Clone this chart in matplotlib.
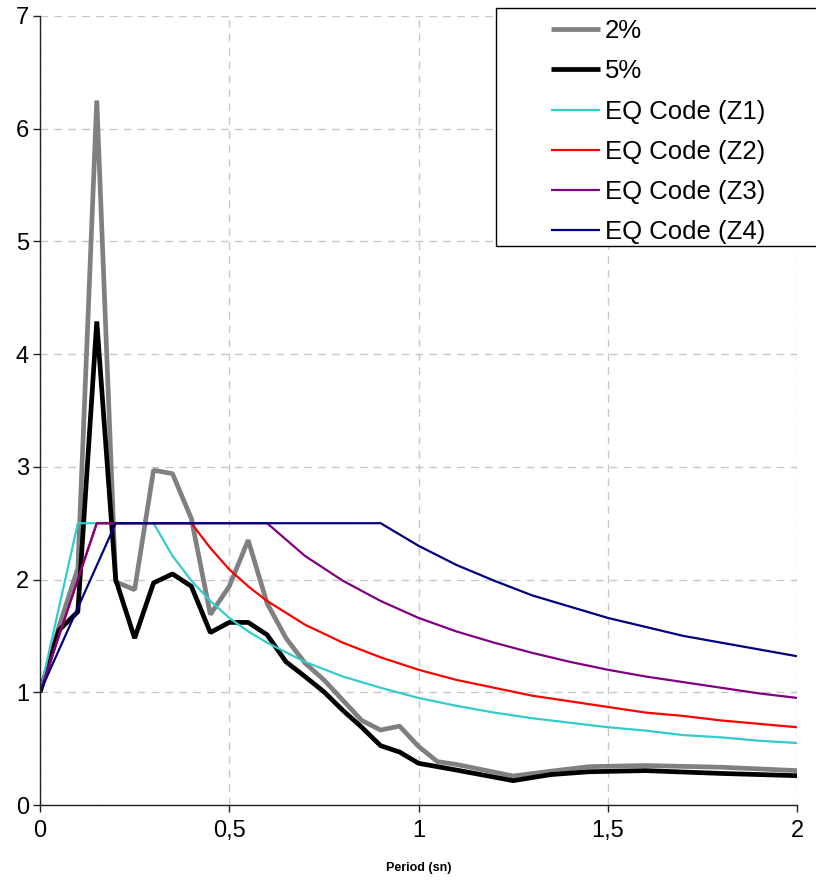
import matplotlib
matplotlib.use("Agg")
import matplotlib.pyplot as plt
from matplotlib.patches import Rectangle

plt.rcParams['font.family'] = ['Liberation Sans', 'DejaVu Sans']

# ---- data ----
T_data = [0, 0.05, 0.1, 0.15, 0.2, 0.25, 0.3, 0.35, 0.4, 0.45, 0.5, 0.55, 0.6,
          0.65, 0.7, 0.75, 0.8, 0.85, 0.9, 0.95, 1.0, 1.05, 1.1, 1.25, 1.35,
          1.45, 1.6, 1.8, 2.0]
damp2 = [1.0, 1.58, 2.10, 6.25, 1.98, 1.91, 2.97, 2.94, 2.54, 1.69, 1.94, 2.35,
         1.79, 1.48, 1.26, 1.11, 0.93, 0.75, 0.665, 0.70, 0.52, 0.385, 0.36,
         0.257, 0.30, 0.34, 0.35, 0.335, 0.305]
damp5 = [1.0, 1.55, 1.715, 4.29, 2.0, 1.48, 1.97, 2.05, 1.94, 1.53, 1.62, 1.62,
         1.51, 1.27, 1.14, 1.005, 0.84, 0.69, 0.526, 0.47, 0.37, 0.34, 0.31,
         0.216, 0.27, 0.295, 0.305, 0.28, 0.26]

T_code = [0, 0.05, 0.1, 0.15, 0.2, 0.25, 0.3, 0.35, 0.4, 0.45, 0.5, 0.55, 0.6,
          0.7, 0.8, 0.9, 1.0, 1.1, 1.2, 1.3, 1.4, 1.5, 1.6, 1.7, 1.8, 1.9, 2.0]
code_z1 = [1.0, 1.75, 2.5, 2.5, 2.5, 2.5, 2.5, 2.21, 1.99, 1.81, 1.66, 1.54, 1.44,
           1.27, 1.14, 1.04, 0.95, 0.88, 0.82, 0.77, 0.73, 0.69, 0.66, 0.62, 0.60,
           0.57, 0.55]
code_z2 = [1.0, 1.5, 2.0, 2.5, 2.5, 2.5, 2.5, 2.5, 2.5, 2.28, 2.09, 1.94, 1.81,
           1.60, 1.44, 1.31, 1.20, 1.11, 1.04, 0.97, 0.92, 0.87, 0.82, 0.79, 0.75,
           0.72, 0.69]
code_z3 = [1.0, 1.5, 2.0, 2.5, 2.5, 2.5, 2.5, 2.5, 2.5, 2.5, 2.5, 2.5, 2.5,
           2.21, 1.99, 1.81, 1.66, 1.54, 1.44, 1.35, 1.27, 1.20, 1.14, 1.09, 1.04,
           0.99, 0.95]
code_z4 = [1.0, 1.375, 1.75, 2.125, 2.5, 2.5, 2.5, 2.5, 2.5, 2.5, 2.5, 2.5, 2.5,
           2.5, 2.5, 2.5, 2.30, 2.13, 1.99, 1.86, 1.76, 1.66, 1.58, 1.50, 1.44,
           1.38, 1.32]

x_ticks = [0, 0.5, 1, 1.5, 2]
x_tick_labels = ["0", "0,5", "1", "1,5", "2"]
y_ticks = [0, 1, 2, 3, 4, 5, 6, 7]
y_tick_labels = ["0", "1", "2", "3", "4", "5", "6", "7"]
labels = ["2%", "5%", "EQ Code (Z1)", "EQ Code (Z2)", "EQ Code (Z3)", "EQ Code (Z4)"]

# ---- figure ----
W, H = 816, 881
fig = plt.figure(figsize=(W / 100, H / 100), dpi=100)
ax = fig.add_axes([40 / W, 1 - 805 / H, (797 - 40) / W, (805 - 16) / H])

kw = dict(solid_joinstyle='bevel', solid_capstyle='butt')
l1, = ax.plot(T_data, damp2, color='#808080', lw=3.4, **kw)
l2, = ax.plot(T_data, damp5, color='#000000', lw=3.4, **kw)
l3, = ax.plot(T_code, code_z1, color='#33CCCC', lw=1.6, **kw)
l4, = ax.plot(T_code, code_z2, color='#FF0000', lw=1.6, **kw)
l5, = ax.plot(T_code, code_z3, color='#800080', lw=1.6, **kw)
l6, = ax.plot(T_code, code_z4, color='#000080', lw=1.6, **kw)

ax.set_xlim(0, 2)
ax.set_ylim(0, 7)
ax.set_xticks(x_ticks)
ax.set_xticklabels(x_tick_labels)
ax.set_yticks(y_ticks)
ax.set_yticklabels(y_tick_labels)
ax.tick_params(axis='both', direction='out', length=5, width=1, labelsize=17,
               color='#222222')
ax.tick_params(axis='y', pad=3)
ax.tick_params(axis='x', pad=6)

ax.grid(True, color='#c8c8c8', linestyle=(0, (5.5, 4.5)), linewidth=1)
ax.set_axisbelow(True)
for s in ['top', 'right']:
    ax.spines[s].set_visible(False)
for s in ['left', 'bottom']:
    ax.spines[s].set_color('#222222')
    ax.spines[s].set_linewidth(1)

ax.set_xlabel("Period (sn)", fontsize=9, fontweight='bold', labelpad=14)
ax.patch.set_alpha(0)

# legend frame drawn separately
frame = Rectangle((496 / W, 1 - 246 / H), (830 - 496) / W, (246 - 8) / H,
                  transform=fig.transFigure, facecolor='white', edgecolor='black',
                  linewidth=1, zorder=5)
fig.patches.append(frame)

leg = fig.legend([l1, l2, l3, l4, l5, l6], labels, loc='upper left',
                 bbox_to_anchor=(546 / W, 1 - 14 / H), frameon=False,
                 fontsize=18.5, handlelength=1.9, handletextpad=0.2,
                 labelspacing=0.63, borderpad=0.2, borderaxespad=0)
leg.set_zorder(6)

fig.savefig("out.png", dpi=100)
